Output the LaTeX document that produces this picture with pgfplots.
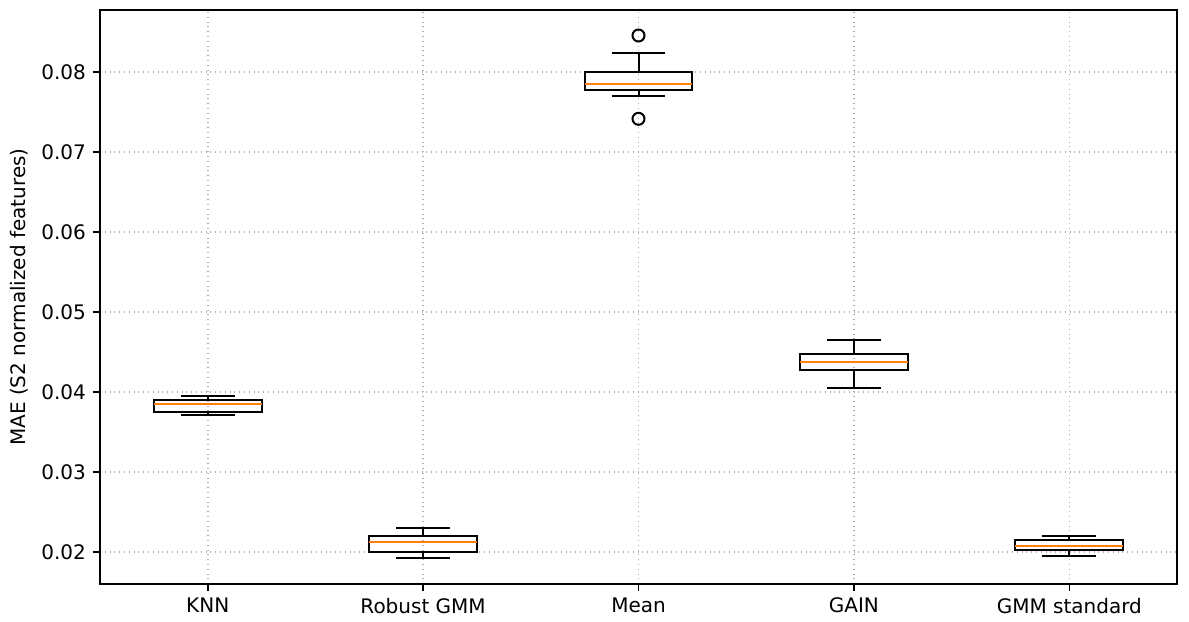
\documentclass[border=0pt]{standalone}
\usepackage{pgfplots}
\pgfplotsset{compat=1.18}
\usepgfplotslibrary{statistics}
\usepackage{fontspec}
\setmainfont{DejaVu Sans}
\definecolor{mplorange}{HTML}{FF7F0E}
\definecolor{gridgray}{HTML}{B0B0B0}
\begin{document}
\begin{tikzpicture}
% values are MAE x 100 (tick labels show the original scale)
\begin{axis}[
  name=ax,
  scale only axis, width=538.5pt, height=287pt,
  xmin=0.5, xmax=5.5, ymin=1.6, ymax=8.775,
  xtick={1,2,3,4,5},
  xticklabels={KNN,Robust GMM,Mean,GAIN,GMM standard},
  ytick={2,3,4,5,6,7,8},
  yticklabels={0.02,0.03,0.04,0.05,0.06,0.07,0.08},
  tick align=outside, tick pos=left, major tick length=3.5pt,
  every tick/.style={black, line width=0.8pt},
  axis line style={line width=0.8pt},
  grid=major, major grid style={gridgray, dotted, line width=0.8pt},
  ylabel={MAE (S2 normalized features)},
  boxplot/draw direction=y,
  boxplot/box extend=0.5, boxplot/whisker extend=0.25,
  boxplot/every median/.style={draw=mplorange, line width=1pt},
]
\addplot[black, line width=1pt, boxplot prepared={draw position=1,
  lower whisker=3.710, lower quartile=3.756, median=3.844,
  upper quartile=3.906, upper whisker=3.948}] coordinates {};
\addplot[black, line width=1pt, boxplot prepared={draw position=2,
  lower whisker=1.928, lower quartile=1.998, median=2.123,
  upper quartile=2.198, upper whisker=2.294}] coordinates {};
\addplot[black, line width=1pt, mark=o, mark size=3pt, mark options={solid, black, line width=1pt},
  boxplot prepared={draw position=3,
  lower whisker=7.706, lower quartile=7.781, median=7.856,
  upper quartile=8.003, upper whisker=8.240}]
  table[row sep=\\, y index=0] {8.456\\7.415\\};
\addplot[black, line width=1pt, boxplot prepared={draw position=4,
  lower whisker=4.048, lower quartile=4.273, median=4.373,
  upper quartile=4.469, upper whisker=4.656}] coordinates {};
\addplot[black, line width=1pt, boxplot prepared={draw position=5,
  lower whisker=1.948, lower quartile=2.023, median=2.073,
  upper quartile=2.156, upper whisker=2.206}] coordinates {};
\end{axis}
\pgfresetboundingbox
\path[use as bounding box] ([xshift=-50pt,yshift=-18.5pt]ax.south west) rectangle ([xshift=6pt,yshift=5pt]ax.north east);
\end{tikzpicture}
\end{document}
